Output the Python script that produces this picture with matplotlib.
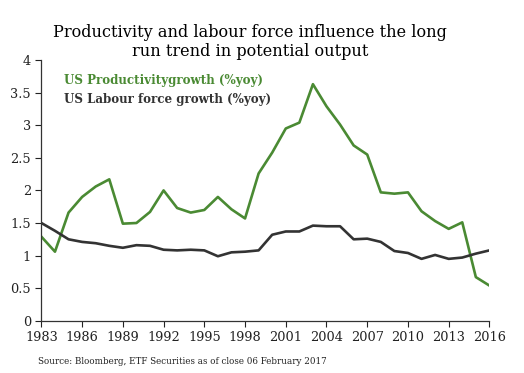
import matplotlib.pyplot as plt

#annual data, 1983-2016
years = list(range(1983, 2017))
productivity = [1.29, 1.06, 1.66, 1.90, 2.06, 2.17, 1.49, 1.50, 1.67, 2.00,
                1.73, 1.66, 1.70, 1.90, 1.71, 1.57, 2.26, 2.58, 2.95, 3.04,
                3.63, 3.29, 3.01, 2.69, 2.55, 1.97, 1.95, 1.97, 1.68, 1.53,
                1.41, 1.51, 0.67, 0.54]
labour = [1.50, 1.38, 1.25, 1.21, 1.19, 1.15, 1.12, 1.16, 1.15, 1.09,
          1.08, 1.09, 1.08, 0.99, 1.05, 1.06, 1.08, 1.32, 1.37, 1.37,
          1.46, 1.45, 1.45, 1.25, 1.26, 1.21, 1.07, 1.04, 0.95, 1.01,
          0.95, 0.97, 1.03, 1.08]
xticks = list(range(1983, 2017, 3))
yticks = [0, 0.5, 1, 1.5, 2, 2.5, 3, 3.5, 4]

green = "#4a8a33"
dark = "#333333"

plt.rcParams["font.family"] = "DejaVu Serif"

fig = plt.figure(figsize=(5.24, 3.73), dpi=100)
ax = fig.add_axes([0.079, 0.14, 0.855, 0.699])

ax.plot(years, productivity, color=green, lw=1.9)
ax.plot(years, labour, color=dark, lw=1.9)

ax.set_xlim(1983, 2016)
ax.set_ylim(0, 4)
ax.set_xticks(xticks)
ax.set_yticks(yticks)
ax.set_yticklabels([f"{t:g}" for t in yticks])
ax.tick_params(labelsize=9.3, colors="#222222", length=4, width=0.8)
for s in ["top", "right"]:
    ax.spines[s].set_visible(False)
for s in ["left", "bottom"]:
    ax.spines[s].set_color("#333333")
    ax.spines[s].set_linewidth(0.9)

#legend as coloured text, like the original
ax.text(0.05, 0.923, "US Productivitygrowth (%yoy)", transform=ax.transAxes,
        color=green, fontsize=8.6, fontweight="bold", va="center")
ax.text(0.05, 0.847, "US Labour force growth (%yoy)", transform=ax.transAxes,
        color=dark, fontsize=8.6, fontweight="bold", va="center")

fig.text(0.477, 0.887, "Productivity and labour force influence the long\nrun trend in potential output",
         ha="center", va="center", fontsize=11.6, linespacing=1.2)
fig.text(0.073, 0.03, "Source: Bloomberg, ETF Securities as of close 06 February 2017",
         fontsize=6.3, color="#222222", va="center")

fig.savefig("out.png", dpi=100)
